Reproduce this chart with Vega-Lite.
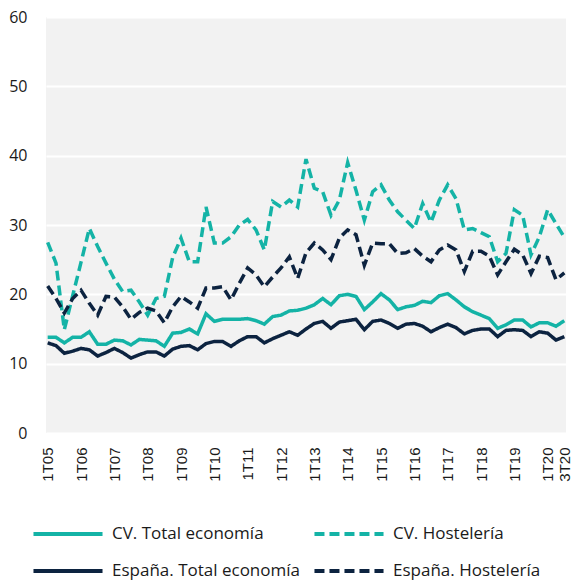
{
  "$schema": "https://vega.github.io/schema/vega-lite/v6.json",
  "autosize": {"type": "none"},
  "width": 520,
  "height": 416,
  "padding": {"left": 46, "top": 17, "right": 14, "bottom": 147},
  "background": "white",
  "config": {
    "view": {"fill": "#f2f2f2", "stroke": null},
    "font": "Open Sans"
  },
  "data": {"values": [
    {"q":"1T05","s":"CV. Total economía","v":13.8},{"q":"2T05","s":"CV. Total economía","v":13.8},{"q":"3T05","s":"CV. Total economía","v":13.0},{"q":"4T05","s":"CV. Total economía","v":13.8},
    {"q":"1T06","s":"CV. Total economía","v":13.8},{"q":"2T06","s":"CV. Total economía","v":14.6},{"q":"3T06","s":"CV. Total economía","v":12.8},{"q":"4T06","s":"CV. Total economía","v":12.8},
    {"q":"1T07","s":"CV. Total economía","v":13.4},{"q":"2T07","s":"CV. Total economía","v":13.3},{"q":"3T07","s":"CV. Total economía","v":12.7},{"q":"4T07","s":"CV. Total economía","v":13.5},
    {"q":"1T08","s":"CV. Total economía","v":13.4},{"q":"2T08","s":"CV. Total economía","v":13.3},{"q":"3T08","s":"CV. Total economía","v":12.5},{"q":"4T08","s":"CV. Total economía","v":14.4},
    {"q":"1T09","s":"CV. Total economía","v":14.5},{"q":"2T09","s":"CV. Total economía","v":15.0},{"q":"3T09","s":"CV. Total economía","v":14.3},{"q":"4T09","s":"CV. Total economía","v":17.2},
    {"q":"1T10","s":"CV. Total economía","v":16.1},{"q":"2T10","s":"CV. Total economía","v":16.4},{"q":"3T10","s":"CV. Total economía","v":16.4},{"q":"4T10","s":"CV. Total economía","v":16.4},
    {"q":"1T11","s":"CV. Total economía","v":16.5},{"q":"2T11","s":"CV. Total economía","v":16.2},{"q":"3T11","s":"CV. Total economía","v":15.7},{"q":"4T11","s":"CV. Total economía","v":16.8},
    {"q":"1T12","s":"CV. Total economía","v":17.0},{"q":"2T12","s":"CV. Total economía","v":17.6},{"q":"3T12","s":"CV. Total economía","v":17.7},{"q":"4T12","s":"CV. Total economía","v":18.0},
    {"q":"1T13","s":"CV. Total economía","v":18.5},{"q":"2T13","s":"CV. Total economía","v":19.4},{"q":"3T13","s":"CV. Total economía","v":18.5},{"q":"4T13","s":"CV. Total economía","v":19.8},
    {"q":"1T14","s":"CV. Total economía","v":20.0},{"q":"2T14","s":"CV. Total economía","v":19.7},{"q":"3T14","s":"CV. Total economía","v":17.8},{"q":"4T14","s":"CV. Total economía","v":18.9},
    {"q":"1T15","s":"CV. Total economía","v":20.1},{"q":"2T15","s":"CV. Total economía","v":19.2},{"q":"3T15","s":"CV. Total economía","v":17.8},{"q":"4T15","s":"CV. Total economía","v":18.2},
    {"q":"1T16","s":"CV. Total economía","v":18.4},{"q":"2T16","s":"CV. Total economía","v":19.0},{"q":"3T16","s":"CV. Total economía","v":18.8},{"q":"4T16","s":"CV. Total economía","v":19.8},
    {"q":"1T17","s":"CV. Total economía","v":20.1},{"q":"2T17","s":"CV. Total economía","v":19.2},{"q":"3T17","s":"CV. Total economía","v":18.2},{"q":"4T17","s":"CV. Total economía","v":17.5},
    {"q":"1T18","s":"CV. Total economía","v":17.0},{"q":"2T18","s":"CV. Total economía","v":16.5},{"q":"3T18","s":"CV. Total economía","v":15.1},{"q":"4T18","s":"CV. Total economía","v":15.6},
    {"q":"1T19","s":"CV. Total economía","v":16.3},{"q":"2T19","s":"CV. Total economía","v":16.3},{"q":"3T19","s":"CV. Total economía","v":15.3},{"q":"4T19","s":"CV. Total economía","v":15.9},
    {"q":"1T20","s":"CV. Total economía","v":15.9},{"q":"2T20","s":"CV. Total economía","v":15.4},{"q":"3T20","s":"CV. Total economía","v":16.2},

    {"q":"1T05","s":"CV. Hostelería","v":27.5},{"q":"2T05","s":"CV. Hostelería","v":24.5},{"q":"3T05","s":"CV. Hostelería","v":14.9},{"q":"4T05","s":"CV. Hostelería","v":19.8},
    {"q":"1T06","s":"CV. Hostelería","v":24.6},{"q":"2T06","s":"CV. Hostelería","v":29.5},{"q":"3T06","s":"CV. Hostelería","v":26.9},{"q":"4T06","s":"CV. Hostelería","v":24.5},
    {"q":"1T07","s":"CV. Hostelería","v":22.2},{"q":"2T07","s":"CV. Hostelería","v":20.4},{"q":"3T07","s":"CV. Hostelería","v":20.6},{"q":"4T07","s":"CV. Hostelería","v":18.9},
    {"q":"1T08","s":"CV. Hostelería","v":17.0},{"q":"2T08","s":"CV. Hostelería","v":19.4},{"q":"3T08","s":"CV. Hostelería","v":19.7},{"q":"4T08","s":"CV. Hostelería","v":25.3},
    {"q":"1T09","s":"CV. Hostelería","v":28.1},{"q":"2T09","s":"CV. Hostelería","v":24.7},{"q":"3T09","s":"CV. Hostelería","v":24.7},{"q":"4T09","s":"CV. Hostelería","v":32.6},
    {"q":"1T10","s":"CV. Hostelería","v":27.4},{"q":"2T10","s":"CV. Hostelería","v":27.4},{"q":"3T10","s":"CV. Hostelería","v":28.3},{"q":"4T10","s":"CV. Hostelería","v":30.0},
    {"q":"1T11","s":"CV. Hostelería","v":30.8},{"q":"2T11","s":"CV. Hostelería","v":29.3},{"q":"3T11","s":"CV. Hostelería","v":26.4},{"q":"4T11","s":"CV. Hostelería","v":33.4},
    {"q":"1T12","s":"CV. Hostelería","v":32.6},{"q":"2T12","s":"CV. Hostelería","v":33.6},{"q":"3T12","s":"CV. Hostelería","v":32.6},{"q":"4T12","s":"CV. Hostelería","v":39.5},
    {"q":"1T13","s":"CV. Hostelería","v":35.3},{"q":"2T13","s":"CV. Hostelería","v":34.8},{"q":"3T13","s":"CV. Hostelería","v":31.4},{"q":"4T13","s":"CV. Hostelería","v":33.6},
    {"q":"1T14","s":"CV. Hostelería","v":39.0},{"q":"2T14","s":"CV. Hostelería","v":35.0},{"q":"3T14","s":"CV. Hostelería","v":30.7},{"q":"4T14","s":"CV. Hostelería","v":34.8},
    {"q":"1T15","s":"CV. Hostelería","v":35.8},{"q":"2T15","s":"CV. Hostelería","v":33.6},{"q":"3T15","s":"CV. Hostelería","v":31.9},{"q":"4T15","s":"CV. Hostelería","v":30.7},
    {"q":"1T16","s":"CV. Hostelería","v":29.5},{"q":"2T16","s":"CV. Hostelería","v":33.1},{"q":"3T16","s":"CV. Hostelería","v":30.4},{"q":"4T16","s":"CV. Hostelería","v":33.6},
    {"q":"1T17","s":"CV. Hostelería","v":35.8},{"q":"2T17","s":"CV. Hostelería","v":33.8},{"q":"3T17","s":"CV. Hostelería","v":29.3},{"q":"4T17","s":"CV. Hostelería","v":29.5},
    {"q":"1T18","s":"CV. Hostelería","v":28.9},{"q":"2T18","s":"CV. Hostelería","v":28.3},{"q":"3T18","s":"CV. Hostelería","v":24.7},{"q":"4T18","s":"CV. Hostelería","v":25.9},
    {"q":"1T19","s":"CV. Hostelería","v":32.2},{"q":"2T19","s":"CV. Hostelería","v":31.4},{"q":"3T19","s":"CV. Hostelería","v":25.7},{"q":"4T19","s":"CV. Hostelería","v":28.3},
    {"q":"1T20","s":"CV. Hostelería","v":32.2},{"q":"2T20","s":"CV. Hostelería","v":30.2},{"q":"3T20","s":"CV. Hostelería","v":28.2},

    {"q":"1T05","s":"España. Total economía","v":13.0},{"q":"2T05","s":"España. Total economía","v":12.6},{"q":"3T05","s":"España. Total economía","v":11.5},{"q":"4T05","s":"España. Total economía","v":11.8},
    {"q":"1T06","s":"España. Total economía","v":12.2},{"q":"2T06","s":"España. Total economía","v":12.0},{"q":"3T06","s":"España. Total economía","v":11.1},{"q":"4T06","s":"España. Total economía","v":11.6},
    {"q":"1T07","s":"España. Total economía","v":12.2},{"q":"2T07","s":"España. Total economía","v":11.6},{"q":"3T07","s":"España. Total economía","v":10.8},{"q":"4T07","s":"España. Total economía","v":11.3},
    {"q":"1T08","s":"España. Total economía","v":11.7},{"q":"2T08","s":"España. Total economía","v":11.7},{"q":"3T08","s":"España. Total economía","v":11.1},{"q":"4T08","s":"España. Total economía","v":12.1},
    {"q":"1T09","s":"España. Total economía","v":12.5},{"q":"2T09","s":"España. Total economía","v":12.6},{"q":"3T09","s":"España. Total economía","v":12.0},{"q":"4T09","s":"España. Total economía","v":12.9},
    {"q":"1T10","s":"España. Total economía","v":13.2},{"q":"2T10","s":"España. Total economía","v":13.2},{"q":"3T10","s":"España. Total economía","v":12.5},{"q":"4T10","s":"España. Total economía","v":13.3},
    {"q":"1T11","s":"España. Total economía","v":13.9},{"q":"2T11","s":"España. Total economía","v":13.9},{"q":"3T11","s":"España. Total economía","v":13.0},{"q":"4T11","s":"España. Total economía","v":13.6},
    {"q":"1T12","s":"España. Total economía","v":14.1},{"q":"2T12","s":"España. Total economía","v":14.6},{"q":"3T12","s":"España. Total economía","v":14.1},{"q":"4T12","s":"España. Total economía","v":15.0},
    {"q":"1T13","s":"España. Total economía","v":15.8},{"q":"2T13","s":"España. Total economía","v":16.1},{"q":"3T13","s":"España. Total economía","v":15.1},{"q":"4T13","s":"España. Total economía","v":16.0},
    {"q":"1T14","s":"España. Total economía","v":16.2},{"q":"2T14","s":"España. Total economía","v":16.4},{"q":"3T14","s":"España. Total economía","v":14.9},{"q":"4T14","s":"España. Total economía","v":16.1},
    {"q":"1T15","s":"España. Total economía","v":16.3},{"q":"2T15","s":"España. Total economía","v":15.8},{"q":"3T15","s":"España. Total economía","v":15.1},{"q":"4T15","s":"España. Total economía","v":15.7},
    {"q":"1T16","s":"España. Total economía","v":15.8},{"q":"2T16","s":"España. Total economía","v":15.4},{"q":"3T16","s":"España. Total economía","v":14.6},{"q":"4T16","s":"España. Total economía","v":15.2},
    {"q":"1T17","s":"España. Total economía","v":15.7},{"q":"2T17","s":"España. Total economía","v":15.2},{"q":"3T17","s":"España. Total economía","v":14.3},{"q":"4T17","s":"España. Total economía","v":14.8},
    {"q":"1T18","s":"España. Total economía","v":15.0},{"q":"2T18","s":"España. Total economía","v":15.0},{"q":"3T18","s":"España. Total economía","v":13.9},{"q":"4T18","s":"España. Total economía","v":14.8},
    {"q":"1T19","s":"España. Total economía","v":14.9},{"q":"2T19","s":"España. Total economía","v":14.8},{"q":"3T19","s":"España. Total economía","v":13.9},{"q":"4T19","s":"España. Total economía","v":14.6},
    {"q":"1T20","s":"España. Total economía","v":14.4},{"q":"2T20","s":"España. Total economía","v":13.4},{"q":"3T20","s":"España. Total economía","v":13.9},

    {"q":"1T05","s":"España. Hostelería","v":21.2},{"q":"2T05","s":"España. Hostelería","v":19.4},{"q":"3T05","s":"España. Hostelería","v":17.3},{"q":"4T05","s":"España. Hostelería","v":19.4},
    {"q":"1T06","s":"España. Hostelería","v":20.6},{"q":"2T06","s":"España. Hostelería","v":18.7},{"q":"3T06","s":"España. Hostelería","v":17.0},{"q":"4T06","s":"España. Hostelería","v":19.7},
    {"q":"1T07","s":"España. Hostelería","v":19.6},{"q":"2T07","s":"España. Hostelería","v":18.2},{"q":"3T07","s":"España. Hostelería","v":16.4},{"q":"4T07","s":"España. Hostelería","v":17.4},
    {"q":"1T08","s":"España. Hostelería","v":18.0},{"q":"2T08","s":"España. Hostelería","v":17.6},{"q":"3T08","s":"España. Hostelería","v":15.9},{"q":"4T08","s":"España. Hostelería","v":18.2},
    {"q":"1T09","s":"España. Hostelería","v":19.7},{"q":"2T09","s":"España. Hostelería","v":18.9},{"q":"3T09","s":"España. Hostelería","v":18.0},{"q":"4T09","s":"España. Hostelería","v":20.9},
    {"q":"1T10","s":"España. Hostelería","v":20.9},{"q":"2T10","s":"España. Hostelería","v":21.1},{"q":"3T10","s":"España. Hostelería","v":19.2},{"q":"4T10","s":"España. Hostelería","v":21.6},
    {"q":"1T11","s":"España. Hostelería","v":23.8},{"q":"2T11","s":"España. Hostelería","v":22.8},{"q":"3T11","s":"España. Hostelería","v":21.1},{"q":"4T11","s":"España. Hostelería","v":22.5},
    {"q":"1T12","s":"España. Hostelería","v":23.8},{"q":"2T12","s":"España. Hostelería","v":25.4},{"q":"3T12","s":"España. Hostelería","v":22.3},{"q":"4T12","s":"España. Hostelería","v":26.0},
    {"q":"1T13","s":"España. Hostelería","v":27.4},{"q":"2T13","s":"España. Hostelería","v":26.4},{"q":"3T13","s":"España. Hostelería","v":25.0},{"q":"4T13","s":"España. Hostelería","v":28.1},
    {"q":"1T14","s":"España. Hostelería","v":29.3},{"q":"2T14","s":"España. Hostelería","v":28.6},{"q":"3T14","s":"España. Hostelería","v":24.2},{"q":"4T14","s":"España. Hostelería","v":27.4},
    {"q":"1T15","s":"España. Hostelería","v":27.3},{"q":"2T15","s":"España. Hostelería","v":27.3},{"q":"3T15","s":"España. Hostelería","v":25.9},{"q":"4T15","s":"España. Hostelería","v":26.0},
    {"q":"1T16","s":"España. Hostelería","v":26.6},{"q":"2T16","s":"España. Hostelería","v":25.5},{"q":"3T16","s":"España. Hostelería","v":24.7},{"q":"4T16","s":"España. Hostelería","v":26.4},
    {"q":"1T17","s":"España. Hostelería","v":27.1},{"q":"2T17","s":"España. Hostelería","v":26.4},{"q":"3T17","s":"España. Hostelería","v":23.3},{"q":"4T17","s":"España. Hostelería","v":26.2},
    {"q":"1T18","s":"España. Hostelería","v":26.2},{"q":"2T18","s":"España. Hostelería","v":25.5},{"q":"3T18","s":"España. Hostelería","v":22.8},{"q":"4T18","s":"España. Hostelería","v":24.7},
    {"q":"1T19","s":"España. Hostelería","v":26.5},{"q":"2T19","s":"España. Hostelería","v":25.7},{"q":"3T19","s":"España. Hostelería","v":23.0},{"q":"4T19","s":"España. Hostelería","v":25.5},
    {"q":"1T20","s":"España. Hostelería","v":25.3},{"q":"2T20","s":"España. Hostelería","v":22.1},{"q":"3T20","s":"España. Hostelería","v":23.1}
  ]},
  "mark": {"type": "line", "strokeWidth": 3.5, "strokeCap": "butt", "strokeJoin": "miter"},
  "encoding": {
    "x": {
      "field": "q", "type": "ordinal", "sort": null,
      "scale": {"type": "point", "padding": 0.2},
      "axis": {
        "title": null, "domain": false, "ticks": false, "grid": false,
        "values": ["1T05","1T06","1T07","1T08","1T09","1T10","1T11","1T12","1T13","1T14","1T15","1T16","1T17","1T18","1T19","1T20","3T20"],
        "labelAngle": -90, "labelFont": "Liberation Sans", "labelFontSize": 15,
        "labelColor": "#1a1a1a", "labelPadding": 14, "labelOverlap": false
      }
    },
    "y": {
      "field": "v", "type": "quantitative",
      "scale": {"domain": [0, 60], "nice": false, "zero": true},
      "axis": {
        "title": null, "domain": false, "ticks": false,
        "values": [0, 10, 20, 30, 40, 50, 60],
        "gridColor": "white", "gridWidth": 2, "gridOpacity": 1,
        "labelFont": "Open Sans", "labelFontSize": 16, "labelColor": "#1a1a1a",
        "labelPadding": 19
      }
    },
    "color": {
      "field": "s", "type": "nominal",
      "scale": {
        "domain": ["CV. Total economía", "CV. Hostelería", "España. Total economía", "España. Hostelería"],
        "range": ["#14b3a6", "#14b3a6", "#0c2340", "#0c2340"]
      },
      "legend": {
        "title": null, "orient": "none", "legendX": 11, "legendY": 506,
        "direction": "horizontal",
        "columns": 2, "symbolType": "M-4,0H4", "symbolSize": 298,
        "symbolStrokeWidth": 4, "labelFont": "Open Sans", "labelFontSize": 17,
        "labelColor": "#1a1a1a", "labelOffset": 33, "columnPadding": 6,
        "rowPadding": 18, "labelLimit": 400
      }
    },
    "strokeDash": {
      "field": "s", "type": "nominal",
      "scale": {
        "domain": ["CV. Total economía", "CV. Hostelería", "España. Total economía", "España. Hostelería"],
        "range": [[1, 0], [10, 5], [1, 0], [10, 5]]
      },
      "legend": null
    }
  }
}
